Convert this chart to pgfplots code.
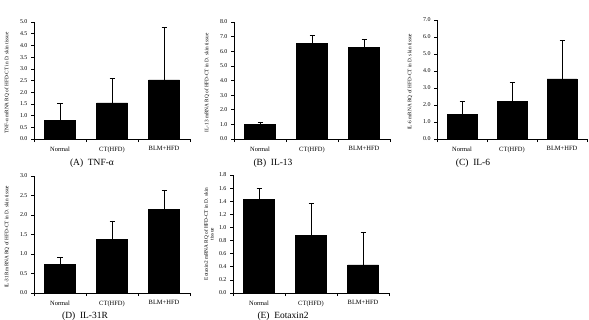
\documentclass[border=0pt]{standalone}
\usepackage{fontspec}
\setmainfont{Liberation Serif}
\usepackage{pgfplots}
\pgfplotsset{compat=1.18}

% common look of the five RQ bar panels
\pgfplotsset{
  rqpanel/.style={
    scale only axis, width=156bp, height=117bp,
    anchor=south west,
    ymin=0, xmin=-0.5, xmax=2.5,
    axis lines*=left,
    axis line style={line width=0.7pt},
    every tick/.style={line width=0.6pt, black},
    tick align=outside,
    major tick length=3bp, minor tick length=3bp,
    xtick={0,1,2}, xticklabels={Normal, CT(HFD), BLM+HFD},
    major x tick style={draw=none},
    minor xtick={-0.5,0.5,1.5,2.5},
    xticklabel style={font=\fontsize{6.5}{7}\selectfont, yshift=-1bp},
    yticklabel style={font=\fontsize{6}{7}\selectfont,
      /pgf/number format/.cd, fixed, fixed zerofill, precision=1},
    /pgf/number format/assume math mode=true,
    ylabel style={font=\fontsize{5.3}{5.8}\selectfont, anchor=center},
  },
  rqbar/.style={
    ybar, bar width=31bp, fill=black, draw=black,
    error bars/y dir=plus, error bars/y explicit,
    error bars/error bar style={line width=0.7pt, black},
    error bars/error mark options={rotate=90, mark size=2.5bp, line width=0.7pt, black},
  },
}

\begin{document}
\begin{tikzpicture}[x=1bp, y=1bp]
\path[use as bounding box] (0,0) rectangle (589,319);

% (A) TNF-alpha
\begin{axis}[rqpanel, at={(34bp,180bp)}, ymax=5, ytick distance=0.5,
  ylabel={TNF-α mRNA RQ of HFD-CT in D. skin tissue},
  ylabel style={at={(axis description cs:-0.173,0.48)}}]
\addplot[rqbar] coordinates {(0,0.79) +- (0,0.74) (1,1.54) +- (0,1.06) (2,2.53) +- (0,2.24)};
\end{axis}
\node[font=\fontsize{9.5}{10}\selectfont] at (92,156) {(A)\ \ TNF-α};

% (B) IL-13
\begin{axis}[rqpanel, at={(234bp,180bp)}, ymax=8, ytick distance=1,
  ylabel={IL-13 mRNA RQ of HFD-CT in D. skin tissue},
  ylabel style={at={(axis description cs:-0.173,0.48)}}]
\addplot[rqbar] coordinates {(0,1.0) +- (0,0.17) (1,6.55) +- (0,0.52) (2,6.28) +- (0,0.53)};
\end{axis}
\node[font=\fontsize{9.5}{10}\selectfont] at (273,156) {(B)\ \ IL-13};

% (C) IL-6
\begin{axis}[rqpanel, at={(437bp,180bp)}, width=150bp, height=119bp,
  ymax=7, ytick distance=1,
  ylabel={IL-6 mRNA RQ of HFD-CT in D. skin tissue},
  ylabel style={at={(axis description cs:-0.18,0.48)}}]
\addplot[rqbar, bar width=30bp] coordinates {(0,1.46) +- (0,0.73) (1,2.21) +- (0,1.10) (2,3.53) +- (0,2.25)};
\end{axis}
\node[font=\fontsize{9.5}{10}\selectfont] at (473,156) {(C)\ \ IL-6};

% (D) IL-31R
\begin{axis}[rqpanel, at={(34bp,26bp)}, ymax=3, ytick distance=0.5,
  ylabel={IL-31R mRNA RQ of HFD-CT in D. skin tissue},
  ylabel style={at={(axis description cs:-0.173,0.48)}}]
\addplot[rqbar] coordinates {(0,0.73) +- (0,0.19) (1,1.37) +- (0,0.48) (2,2.14) +- (0,0.49)};
\end{axis}
\node[font=\fontsize{9.5}{10}\selectfont] at (85,3) {(D)\ \ IL-31R};

% (E) Eotaxin2
\begin{axis}[rqpanel, at={(233bp,26bp)}, height=118bp, ymax=1.8,
  ytick={0,0.2,0.4,0.6,0.8,1.0,1.2,1.4,1.6,1.8},
  ylabel={Eotaxin2 mRNA RQ of HFD-CT in D. skin\\tissue},
  ylabel style={at={(axis description cs:-0.154,0.5)}, align=center}]
\addplot[rqbar] coordinates {(0,1.43) +- (0,0.17) (1,0.88) +- (0,0.49) (2,0.43) +- (0,0.49)};
\end{axis}
\node[font=\fontsize{9.5}{10}\selectfont] at (283,3) {(E)\ \ Eotaxin2};
\end{tikzpicture}
\end{document}
